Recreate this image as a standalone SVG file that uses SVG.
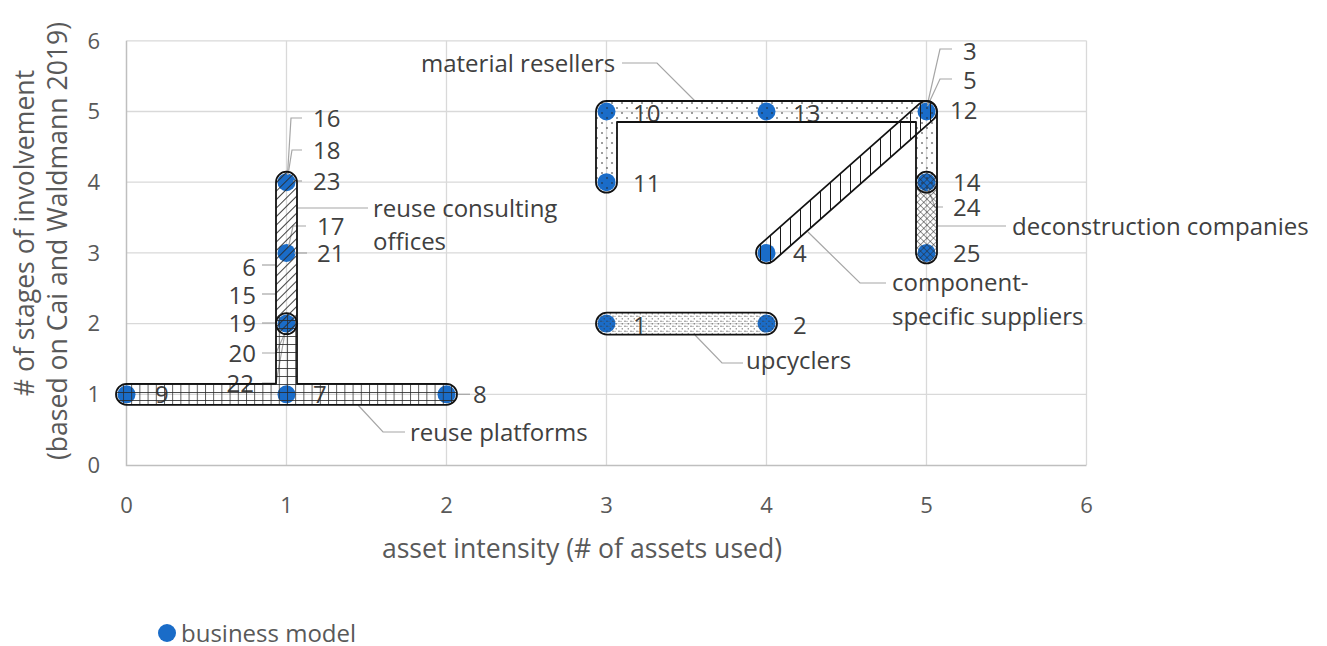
<svg xmlns="http://www.w3.org/2000/svg" width="1327" height="646" viewBox="0 0 1327 646">
  <style>
    text { font-family: "Open Sans", "Liberation Sans", sans-serif; }
    .grid { stroke: #d9d9d9; stroke-width: 1.3; fill: none; }
    .axis { stroke: #bfbfbf; stroke-width: 1.5; fill: none; }
    .tick { font-size: 22px; fill: #595959; }
    .title { font-size: 26.6px; fill: #595959; }
    .lbl { font-size: 24px; fill: #404040; }
    .call { font-size: 24px; fill: #404040; }
    .lead { stroke: #a6a6a6; stroke-width: 1.2; fill: none; }
    .pt { fill: #1a6cc8; }
    .shape { stroke: #111; stroke-width: 1.8; stroke-linejoin: round; }
  </style>
  <defs>
    <!-- fill patterns for the category outlines (transparent background) -->
    <pattern id="pGrid" width="8.2" height="8" patternUnits="userSpaceOnUse">
      <path d="M0.5,0V8M0,0.5H8.2" stroke="#2a2a2a" stroke-width="0.8" fill="none"/>
    </pattern>
    <pattern id="pDiag" width="6" height="6" patternUnits="userSpaceOnUse" patternTransform="rotate(45)">
      <path d="M0.5,0V6" stroke="#2a2a2a" stroke-width="0.9" fill="none"/>
    </pattern>
    <pattern id="pVert" width="10" height="10" patternUnits="userSpaceOnUse">
      <path d="M0.5,0V10" stroke="#1a1a1a" stroke-width="1" fill="none"/>
    </pattern>
    <pattern id="pCross" width="4.6" height="4.6" patternUnits="userSpaceOnUse" patternTransform="rotate(45)">
      <path d="M0.3,0V4.6M0,0.3H4.6" stroke="#2a2a2a" stroke-width="0.6" fill="none"/>
    </pattern>
    <pattern id="pDots" width="10" height="10" patternUnits="userSpaceOnUse">
      <circle cx="2" cy="3" r="0.8" fill="#222"/>
      <circle cx="7" cy="8" r="0.8" fill="#222"/>
    </pattern>
    <pattern id="pConfetti" width="6" height="5" patternUnits="userSpaceOnUse">
      <circle cx="1" cy="1.2" r="0.6" fill="#333"/>
      <circle cx="3" cy="1.2" r="0.5" fill="#555"/>
      <circle cx="4.2" cy="3.8" r="0.6" fill="#333"/>
    </pattern>
  </defs>

  <rect width="1327" height="646" fill="#ffffff"/>

  <!-- gridlines -->
  <g id="gridlines">
    <path class="grid" d="M126.5,40.8H1086.5M126.5,111.5H1086.5M126.5,182.2H1086.5M126.5,252.9H1086.5M126.5,323.6H1086.5M126.5,394.3H1086.5"/>
    <path class="grid" d="M286.5,40.8V465M446.5,40.8V465M606.5,40.8V465M766.5,40.8V465M926.5,40.8V465M1086.5,40.8V465"/>
    <path class="axis" d="M126.5,40.8V465.5H1086.5"/>
  </g>

  <!-- axis tick labels -->
  <g id="y-ticks" class="tick" text-anchor="end">
    <text x="100" y="48.6">6</text>
    <text x="100" y="119.3">5</text>
    <text x="100" y="190">4</text>
    <text x="100" y="260.7">3</text>
    <text x="100" y="331.4">2</text>
    <text x="100" y="402.1">1</text>
    <text x="100" y="472.8">0</text>
  </g>
  <g id="x-ticks" class="tick" text-anchor="middle">
    <text x="126.5" y="513">0</text>
    <text x="286.5" y="513">1</text>
    <text x="446.5" y="513">2</text>
    <text x="606.5" y="513">3</text>
    <text x="766.5" y="513">4</text>
    <text x="926.5" y="513">5</text>
    <text x="1086.5" y="513">6</text>
  </g>

  <!-- axis titles -->
  <text class="title" x="582" y="558" text-anchor="middle">asset intensity (# of assets used)</text>
  <text class="title" transform="translate(34,233) rotate(-90)" text-anchor="middle"># of stages of involvement</text>
  <text class="title" transform="translate(67,241) rotate(-90)" text-anchor="middle">(based on Cai and Waldmann 2019)</text>

  <!-- business model data points -->
  <g id="points">
    <circle class="pt" cx="126.5" cy="394.3" r="9"/>
    <circle class="pt" cx="286.5" cy="394.3" r="9"/>
    <circle class="pt" cx="446.5" cy="394.3" r="9"/>
    <circle class="pt" cx="286.5" cy="323.6" r="9"/>
    <circle class="pt" cx="286.5" cy="252.9" r="9"/>
    <circle class="pt" cx="286.5" cy="182.2" r="9"/>
    <circle class="pt" cx="606.5" cy="323.6" r="9"/>
    <circle class="pt" cx="766.5" cy="323.6" r="9"/>
    <circle class="pt" cx="606.5" cy="182.2" r="9"/>
    <circle class="pt" cx="606.5" cy="111.5" r="9"/>
    <circle class="pt" cx="766.5" cy="111.5" r="9"/>
    <circle class="pt" cx="766.5" cy="252.9" r="9"/>
    <circle class="pt" cx="926.5" cy="111.5" r="9"/>
    <circle class="pt" cx="926.5" cy="182.2" r="9"/>
    <circle class="pt" cx="926.5" cy="252.9" r="9"/>
  </g>

  <!-- leader lines of point labels and category callouts -->
  <g id="connectors" class="lead">
    <path d="M302,118H291L287.5,175"/>
    <path d="M302,150H292L288,175"/>
    <path d="M302,181H293"/>
    <path d="M306,226H293L288.5,247"/>
    <path d="M307,253H294"/>
    <path d="M262,265H276"/>
    <path d="M262,294H276"/>
    <path d="M262,323H277"/>
    <path d="M262,353H276L285,333"/>
    <path d="M262,383H276L285,333"/>
    <path d="M458,394.3H470"/>
    <path d="M952,49H940L927.5,104"/>
    <path d="M952,79H940L927.5,106"/>
    <path d="M943,207H935L928,189"/>
    <path d="M368,208H297"/>
    <path d="M622,63H657L695,101"/>
    <path d="M1006,226H937"/>
    <path d="M886,283H860L808,232"/>
    <path d="M743,363H722L695,335"/>
    <path d="M405,432H383L358,405"/>
  </g>

  <!-- point labels -->
  <g id="point-labels" class="lbl">
    <text x="155" y="403">9</text>
    <text x="313" y="403">7</text>
    <text x="473" y="403">8</text>
    <text x="313" y="126.5">16</text>
    <text x="313" y="158.5">18</text>
    <text x="313" y="189.5">23</text>
    <text x="317" y="234.5">17</text>
    <text x="317" y="261.5">21</text>
    <text x="256" y="275.5" text-anchor="end">6</text>
    <text x="256" y="303.5" text-anchor="end">15</text>
    <text x="256" y="331.5" text-anchor="end">19</text>
    <text x="256" y="361.5" text-anchor="end">20</text>
    <text x="254" y="391.5" text-anchor="end">22</text>
    <text x="633" y="121.5">10</text>
    <text x="793" y="121.5">13</text>
    <text x="633" y="191.5">11</text>
    <text x="950" y="118.5">12</text>
    <text x="963" y="59.5">3</text>
    <text x="963" y="88.5">5</text>
    <text x="953" y="190.5">14</text>
    <text x="953" y="215.5">24</text>
    <text x="953" y="261.5">25</text>
    <text x="793" y="261.5">4</text>
    <text x="633" y="333.5">1</text>
    <text x="793" y="333.5">2</text>
  </g>

  <!-- category outlines -->
  <g id="reuse-platforms">
    <path class="shape" fill="url(#pGrid)" d="M126.5,383.8H276V323.6A10.5,10.5 0 0 1 297,323.6V383.8H446.5A10.5,10.5 0 0 1 446.5,404.8H126.5A10.5,10.5 0 0 1 126.5,383.8Z"/>
    <text class="call" x="410" y="440.5">reuse platforms</text>
  </g>
  <g id="reuse-consulting-offices">
    <rect class="shape" fill="url(#pDiag)" x="276" y="171.7" width="21" height="162.4" rx="10.5"/>
    <text class="call" x="373" y="216.5">reuse consulting</text>
    <text class="call" x="373" y="249.5">offices</text>
  </g>
  <g id="material-resellers">
    <path class="shape" fill="url(#pDots)" d="M596,182.2V111.5A10.5,10.5 0 0 1 606.5,101H926.5A10.5,10.5 0 0 1 937,111.5V182.2A10.5,10.5 0 0 1 916,182.2V122H617V182.2A10.5,10.5 0 0 1 596,182.2Z"/>
    <text class="call" x="421" y="71.5">material resellers</text>
  </g>
  <g id="component-specific-suppliers">
    <path class="shape" fill="url(#pVert)" d="M773.45,260.77L933.45,119.37A10.5,10.5 0 0 0 919.55,103.63L759.55,245.03A10.5,10.5 0 0 0 773.45,260.77Z"/>
    <text class="call" x="892" y="291">component-</text>
    <text class="call" x="892" y="324.5">specific suppliers</text>
  </g>
  <g id="upcyclers">
    <rect class="shape" fill="url(#pConfetti)" x="596" y="312.6" width="181" height="22" rx="11"/>
    <text class="call" x="746" y="368.5">upcyclers</text>
  </g>
  <g id="deconstruction-companies">
    <rect class="shape" fill="url(#pCross)" x="916" y="171.7" width="21" height="91.7" rx="10.5"/>
    <text class="call" x="1012" y="235">deconstruction companies</text>
  </g>

  <!-- legend -->
  <g id="legend">
    <circle class="pt" cx="167" cy="633" r="9"/>
    <text x="181" y="641.5" font-size="24" fill="#595959">business model</text>
  </g>
</svg>
